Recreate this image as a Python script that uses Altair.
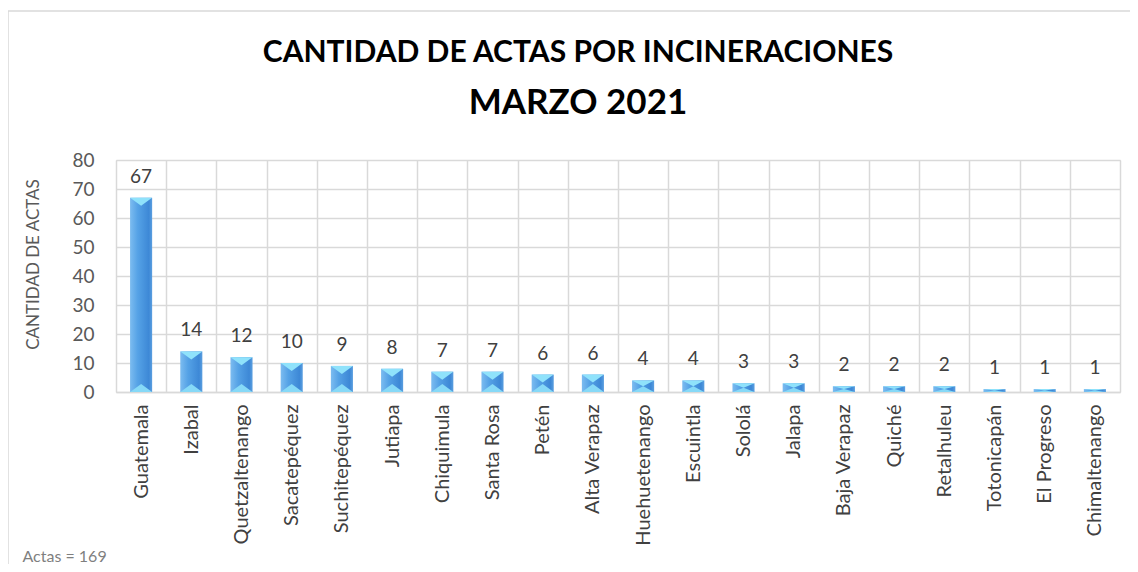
import altair as alt
import pandas as pd

departamentos = ["Guatemala", "Izabal", "Quetzaltenango", "Sacatepéquez", "Suchitepéquez",
                 "Jutiapa", "Chiquimula", "Santa Rosa", "Petén", "Alta Verapaz",
                 "Huehuetenango", "Escuintla", "Sololá", "Jalapa", "Baja Verapaz",
                 "Quiché", "Retalhuleu", "Totonicapán", "El Progreso", "Chimaltenango"]
actas = [67, 14, 12, 10, 9, 8, 7, 7, 6, 6, 4, 4, 3, 3, 2, 2, 2, 1, 1, 1]
y_ticks = [0, 10, 20, 30, 40, 50, 60, 70, 80]

W, H = 1004, 232
FONT = "Lato"
GRID = "#d9d9d9"

df = pd.DataFrame({"dep": departamentos, "n": actas})
df["zero"] = 0

x_enc = alt.X(
    "dep:N", sort=None,
    scale=alt.Scale(paddingInner=0, paddingOuter=0),
    axis=alt.Axis(
        title=f"Actas = {sum(actas)}",
        labelAngle=-90, labelFont=FONT, labelFontSize=20, labelColor="#404040",
        labelPadding=12, ticks=False, grid=True, gridColor=GRID, gridWidth=1.5,
        tickBand="extent", domainColor=GRID, domainWidth=1.5,
        titleFont=FONT, titleFontSize=16, titleFontWeight="normal", titleColor="#7f7f7f",
        titleX=-94, titleY=169, titleAlign="left", titleBaseline="alphabetic",
    ),
)
y_scale = alt.Scale(domain=[0, 80], nice=False)
y_axis = alt.Axis(
    title="CANTIDAD DE ACTAS", values=y_ticks, ticks=False, domain=False,
    labelFont=FONT, labelFontSize=19, labelColor="#595959", labelPadding=22,
    grid=True, gridColor=GRID, gridWidth=1.5,
    titleFont=FONT, titleFontSize=17, titleFontWeight="normal", titleColor="#595959",
    titleX=-83, titleY=104, titleAngle=-90, titleAlign="center", titleBaseline="middle",
)

base = alt.Chart(df)

bar_fill = alt.Gradient(
    gradient="linear", x1=0, x2=1, y1=0, y2=0,
    stops=[alt.GradientStop(offset=0, color="#7cbcf0"),
           alt.GradientStop(offset=0.35, color="#55a2e6"),
           alt.GradientStop(offset=0.85, color="#3d88d6"),
           alt.GradientStop(offset=1, color="#5b9fe0")],
)

bars = base.mark_bar(width=alt.RelativeBandSize(0.44), fill=bar_fill).encode(
    x=x_enc, y=alt.Y("n:Q", scale=y_scale, axis=y_axis)
)

cap_calc = f"min(8, datum.n * {H} / 80 / 2) / 11"
top_caps = base.transform_calculate(
    shp="'M-1,0L1,0L0,' + format(" + cap_calc + ", '.3f') + 'Z'"
).mark_point(filled=True, size=484, opacity=1, strokeWidth=0, fill="#8fe2fb").encode(
    x=x_enc, y=alt.Y("n:Q", scale=y_scale, axis=y_axis),
    shape=alt.Shape("shp:N", scale=None),
)
bottom_caps = base.transform_calculate(
    shp="'M-1,0L1,0L0,-' + format(" + cap_calc + ", '.3f') + 'Z'"
).mark_point(filled=True, size=484, opacity=1, strokeWidth=0, fill="#86d9f7").encode(
    x=x_enc, y=alt.Y("zero:Q", scale=y_scale, axis=y_axis),
    shape=alt.Shape("shp:N", scale=None),
)

labels = base.mark_text(font=FONT, fontSize=19, color="#404040", baseline="alphabetic", dy=-15).encode(
    x=x_enc, y=alt.Y("n:Q", scale=y_scale, axis=y_axis), text="n:Q"
)

border = alt.Chart(pd.DataFrame({"a": [0]})).mark_rect(
    filled=False, stroke=GRID, strokeWidth=1.5, clip=False
).encode(
    x=alt.value(-108), x2=alt.value(1040), y=alt.value(-149), y2=alt.value(420)
)

chart = alt.layer(border, bars, top_caps, bottom_caps, labels).properties(
    width=W, height=H,
    padding={"left": 108, "top": 152, "right": 10, "bottom": 172},
    autosize=alt.AutoSizeParams(type="none"),
    title=alt.Title(
        "CANTIDAD DE ACTAS POR INCINERACIONES", subtitle="MARZO 2021",
        font=FONT, fontSize=30, fontWeight="bold", color="#000000",
        subtitleFont=FONT, subtitleFontSize=35, subtitleFontWeight="bold", subtitleColor="#000000",
        subtitlePadding=18, anchor="middle", frame="group", dx=-40, offset=-111,
    ),
).configure_view(stroke=GRID, strokeWidth=1.5).configure(background="white")

chart.save("out.html", embed_options={"renderer": "svg", "actions": False})
